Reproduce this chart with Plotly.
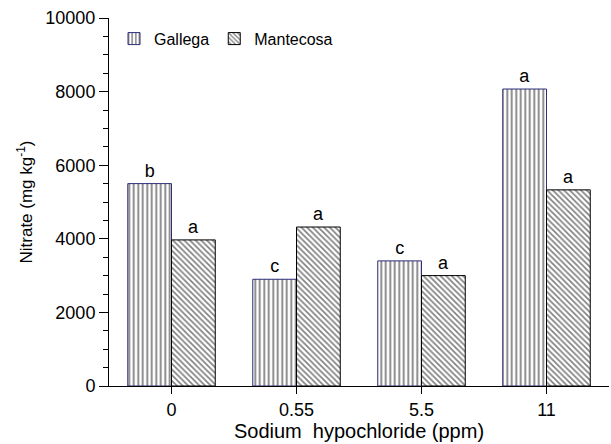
import plotly.graph_objects as go

categories = ["0", "0.55", "5.5", "11"]
gallega = [5500, 2900, 3400, 8070]
mantecosa = [3970, 4320, 3000, 5330]
gallega_letters = ["b", "c", "c", "a"]
mantecosa_letters = ["a", "a", "a", "a"]

font = "Liberation Sans, Arial, sans-serif"

fig = go.Figure()
fig.add_trace(go.Bar(
    x=categories, y=gallega, name="Gallega",
    text=gallega_letters, textposition="outside", cliponaxis=False,
    textfont=dict(size=18, color="black", family=font),
    marker=dict(color="white", line=dict(color="#2e2e7a", width=1),
                pattern=dict(shape="|", fgcolor="black", bgcolor="white", size=4.5, solidity=0.4)),
))
fig.add_trace(go.Bar(
    x=categories, y=mantecosa, name="Mantecosa",
    text=mantecosa_letters, textposition="outside", cliponaxis=False,
    textfont=dict(size=18, color="black", family=font),
    marker=dict(color="white", line=dict(color="black", width=1),
                pattern=dict(shape="\\", fgcolor="black", bgcolor="white", size=4, solidity=0.4)),
))

fig.update_layout(
    width=611, height=444,
    margin=dict(l=109, r=2, t=18, b=58),
    paper_bgcolor="white", plot_bgcolor="white",
    barmode="group", bargap=0.3, bargroupgap=0,
    font=dict(family=font, size=17, color="black"),
    showlegend=True,
    legend=dict(orientation="h", x=0.01, y=0.99, xanchor="left", yanchor="top",
                font=dict(size=16, family=font), bgcolor="rgba(0,0,0,0)",
                itemwidth=30, tracegroupgap=0),
)
fig.update_xaxes(
    type="category", range=[-0.5, 3.5],
    showline=True, linecolor="black", linewidth=1,
    ticks="outside", ticklen=7, tickcolor="black",
    tickfont=dict(size=18),
    title=dict(text="Sodium  hypochloride (ppm)", font=dict(size=20), standoff=0),
    showgrid=False, zeroline=False,
)
fig.update_yaxes(
    range=[0, 10000], tickvals=[0, 2000, 4000, 6000, 8000, 10000], tickformat="d",
    showline=True, linecolor="black", linewidth=1,
    ticks="outside", ticklen=9, tickcolor="black",
    minor=dict(dtick=500, ticks="outside", ticklen=5, tickcolor="black", showgrid=False),
    tickfont=dict(size=18),
    title=dict(text="Nitrate (mg kg<sup>-1</sup>)", font=dict(size=17), standoff=8),
    showgrid=False, zeroline=False,
)

fig.write_html("out.html")
